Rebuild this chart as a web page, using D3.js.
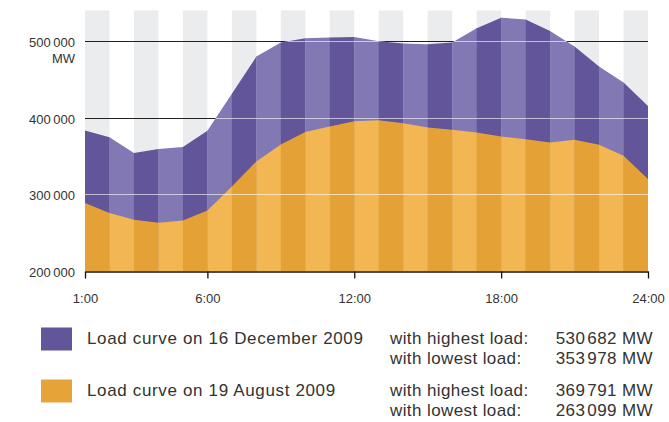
<!DOCTYPE html>
<html>
<head>
<meta charset="utf-8">
<script src="https://cdn.jsdelivr.net/npm/d3@7"></script>
<style>
    body { margin: 0; background: #fff; }
    text { font-family: "Liberation Sans", Arial, sans-serif; fill: #333; }
    .axis text { font-size: 13px; }
    .legend text { font-size: 17px; letter-spacing: 0.4px; }
    .legend text.name { letter-spacing: 0.65px; }
</style>
</head>
<body>
<div id="container"></div>
<script>
// horas del dia
var hours = [1, 2, 3, 4, 5, 6, 7, 8, 9, 10, 11, 12, 13, 14, 15, 16, 17, 18, 19, 20, 21, 22, 23, 24];

// carga en MW
var december = [383300, 374700, 354000, 359100, 361700, 383000, 431200, 479800, 498100, 503800, 504600, 505500,
                499900, 496800, 496000, 498100, 516900, 530700, 528100, 513400, 492900, 466800, 445900, 415500];
var august = [288700, 275600, 266900, 263100, 266000, 279000, 310300, 342900, 365000, 381300, 388600, 395600,
              396900, 393000, 387200, 384300, 380700, 375500, 372100, 367700, 371200, 364700, 350300, 320000];

var xTicks = [1, 6, 12, 18, 24];
var yTicks = [200000, 300000, 400000, 500000];
var gridValues = [300000, 400000, 500000];

var legendLabels = ["Load curve on 16 December 2009", "Load curve on 19 August 2009"];
var highest = [530682, 369791];
var lowest = [353978, 263099];

var w = 669, h = 422;
var margin = { top: 10.5, right: 21, bottom: 151, left: 85 };

var colors = {
    dec: ["#62559a", "#8279b4"],
    aug: ["#e4a236", "#f2b652"],
    stripe: "#ebecee"
};

var svg = d3.select("#container").append("svg")
    .attr("width", w)
    .attr("height", h);

var x = d3.scaleLinear().domain([1, 24]).range([margin.left, w - margin.right]);
var y = d3.scaleLinear().domain([200000, 540000]).range([h - margin.bottom, margin.top]);

var decData = hours.map(function(d, i) { return { h: d, v: december[i] }; });
var augData = hours.map(function(d, i) { return { h: d, v: august[i] }; });

var area = d3.area()
    .x(function(d) { return x(d.h); })
    .y0(y(200000))
    .y1(function(d) { return y(d.v); });

// numero con un pequeño hueco entre miles
function writeNumber(sel, value, suffix, gap) {
    var s = String(value);
    var a = s.slice(0, s.length - 3), b = s.slice(-3);
    sel.append("tspan").text(a);
    sel.append("tspan").attr("dx", gap).text(b + suffix);
}

// franjas de una hora
var bands = hours.slice(0, -1).map(function(d, i) { return { start: d, end: hours[i + 1], i: i }; });

var defs = svg.append("defs");
defs.append("clipPath").attr("id", "clipDec")
    .append("path").attr("d", area(decData));
defs.append("clipPath").attr("id", "clipAug")
    .append("path").attr("d", area(augData));

// fondo a rayas
svg.append("g").attr("class", "stripes")
    .selectAll("rect")
    .data(bands.filter(function(d) { return d.i % 2 === 0; }))
    .enter()
    .append("rect")
    .attr("x", function(d) { return x(d.start); })
    .attr("y", y.range()[1])
    .attr("width", function(d) { return x(d.end) - x(d.start); })
    .attr("height", y.range()[0] - y.range()[1])
    .attr("fill", colors.stripe);

// lineas de referencia oscuras (detras)
svg.append("g")
    .selectAll("line")
    .data(gridValues)
    .enter()
    .append("line")
    .attr("x1", x.range()[0])
    .attr("x2", x.range()[1])
    .attr("y1", function(d) { return Math.round(y(d)) + 0.5; })
    .attr("y2", function(d) { return Math.round(y(d)) + 0.5; })
    .attr("stroke", "#222")
    .attr("stroke-width", 1);

// areas por franjas
function drawArea(clipId, pal) {
    svg.append("g")
        .attr("clip-path", "url(#" + clipId + ")")
        .selectAll("rect")
        .data(bands)
        .enter()
        .append("rect")
        .attr("x", function(d) { return x(d.start); })
        .attr("y", y.range()[1])
        .attr("width", function(d) { return x(d.end) - x(d.start) + 0.3; })
        .attr("height", y.range()[0] - y.range()[1])
        .attr("fill", function(d) { return pal[d.i % 2]; });
}
drawArea("clipDec", colors.dec);
drawArea("clipAug", colors.aug);

// lineas claras sobre las areas
svg.append("g")
    .attr("clip-path", "url(#clipDec)")
    .selectAll("line")
    .data(gridValues)
    .enter()
    .append("line")
    .attr("x1", x.range()[0])
    .attr("x2", x.range()[1])
    .attr("y1", function(d) { return Math.round(y(d)) + 0.5; })
    .attr("y2", function(d) { return Math.round(y(d)) + 0.5; })
    .attr("stroke", "#fff")
    .attr("stroke-opacity", 0.6)
    .attr("stroke-width", 1.2);

// eje x
var xAxis = svg.append("g")
    .attr("class", "axis")
    .attr("transform", "translate(0," + (Math.round(y(200000)) + 0.5) + ")")
    .call(d3.axisBottom(x)
        .tickValues(xTicks)
        .tickSize(7)
        .tickSizeOuter(0)
        .tickPadding(15)
        .tickFormat(function(d) { return d + ":00"; }));
xAxis.select(".domain").attr("stroke", "#111").attr("stroke-width", 1.3);
xAxis.selectAll(".tick line").attr("stroke", "#111").attr("stroke-width", 1.3);
xAxis.selectAll("text").attr("fill", "#333");

// etiquetas eje y
var yLabels = svg.append("g").attr("class", "axis");
yLabels.selectAll("text")
    .data(yTicks)
    .enter()
    .append("text")
    .attr("x", 75)
    .attr("y", function(d) { return y(d) + 6; })
    .attr("text-anchor", "end")
    .each(function(d) { writeNumber(d3.select(this), d, "", 2.5); });
yLabels.append("text")
    .attr("x", 75)
    .attr("y", y(500000) + 22)
    .attr("text-anchor", "end")
    .text("MW");

// leyenda
var legend = svg.append("g").attr("class", "legend");
var rowY = [344, 396];
var swatches = [colors.dec[0], "#e6a337"];

legendLabels.forEach(function(label, i) {
    legend.append("rect")
        .attr("x", 41)
        .attr("y", rowY[i] - 16.5)
        .attr("width", 31)
        .attr("height", 23)
        .attr("fill", swatches[i]);
    legend.append("text")
        .attr("class", "name")
        .attr("x", 87)
        .attr("y", rowY[i])
        .text(label);
    legend.append("text")
        .attr("x", 390)
        .attr("y", rowY[i])
        .text("with highest load:");
    legend.append("text")
        .attr("x", 390)
        .attr("y", rowY[i] + 20)
        .text("with lowest load:");
    legend.append("text")
        .attr("x", 653)
        .attr("y", rowY[i])
        .attr("text-anchor", "end")
        .call(writeNumber, highest[i], " MW", 2);
    legend.append("text")
        .attr("x", 653)
        .attr("y", rowY[i] + 20)
        .attr("text-anchor", "end")
        .call(writeNumber, lowest[i], " MW", 2);
});
</script>
</body>
</html>
